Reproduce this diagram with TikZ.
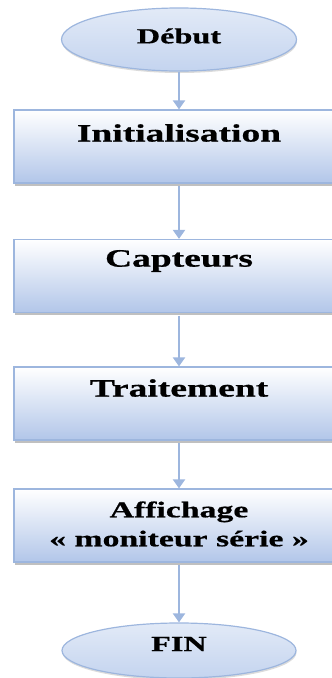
\documentclass[tikz,border=0pt]{standalone}
\usepackage{fontspec}
\setmainfont{Liberation Serif}
\newfontfamily\boxfont[FakeStretch=1.5,FakeBold=0.7]{Liberation Serif}
\usetikzlibrary{arrows.meta,shapes.geometric,shadows}

\definecolor{edgeblue}{HTML}{9DB6DE}
\definecolor{lowblue}{HTML}{B2C6E9}
\definecolor{ovalblue}{HTML}{C4D4EF}
\definecolor{ovaltop}{HTML}{E2EAF7}

\tikzset{
  stepbox/.style={draw=edgeblue, line width=1.2pt, rectangle,
    minimum width=330pt, minimum height=73pt, inner sep=0pt,
    shading=axis, top color=white, bottom color=lowblue,
    drop shadow={shadow xshift=0.5pt, shadow yshift=-2.5pt,
      fill=black!45, opacity=0.55}},
  termoval/.style={draw=edgeblue, line width=1.2pt, ellipse,
    inner sep=0pt, shading=axis, top color=ovaltop, bottom color=ovalblue,
    drop shadow={shadow xshift=0.5pt, shadow yshift=-2pt,
      fill=black!35, opacity=0.4}},
  boxtext/.style={font=\boxfont\bfseries\fontsize{25}{30}\selectfont,
    align=center, inner sep=0pt},
  smalltext/.style={font=\boxfont\bfseries\fontsize{22.5}{29}\selectfont,
    align=center, inner sep=0pt},
  ovaltext/.style={font=\boxfont\bfseries\fontsize{21.5}{24}\selectfont,
    inner sep=0pt},
  flow/.style={draw=edgeblue, line width=2pt,
    -{Triangle[length=9pt,width=12pt]}}
}

\begin{document}
\begin{tikzpicture}[x=1pt,y=-1pt]
  \useasboundingbox (0,0) rectangle (332,678);
  \clip (0,0) rectangle (332,678);

  % start and end ovals
  \node[termoval, minimum width=235pt, minimum height=63pt] (debut) at (179,39.5) {};
  \node[ovaltext] (debutT) at (179,36) {Début};
  \node[termoval, minimum width=234pt, minimum height=55pt] (fin) at (179,650.5) {};
  \node[ovaltext] (finT) at (179,644) {FIN};

  % process boxes (they run past the right edge)
  \node[stepbox] (init) at (179,146.5) {};
  \node[boxtext] (initT) at (179,133) {Initialisation};

  \node[stepbox] (capt) at (179,276) {};
  \node[boxtext] (captT) at (179,261) {Capteurs};

  \node[stepbox] (trait) at (179,403.5) {};
  \node[boxtext] (traitT) at (179,388) {Traitement};

  \node[stepbox] (affi) at (179,525.5) {};
  \node[smalltext] (affiT) at (179,524) {Affichage\\« moniteur série »};

  % connectors
  \draw[flow] (debut.south) -- (init.north);
  \draw[flow] (init.south) ++(0,2.5) -- (capt.north);
  \draw[flow] (capt.south) ++(0,2.5) -- (trait.north);
  \draw[flow] (trait.south) ++(0,2.5) -- (affi.north);
  \draw[flow] (affi.south) ++(0,2.5) -- (fin.north);
\end{tikzpicture}
\end{document}
